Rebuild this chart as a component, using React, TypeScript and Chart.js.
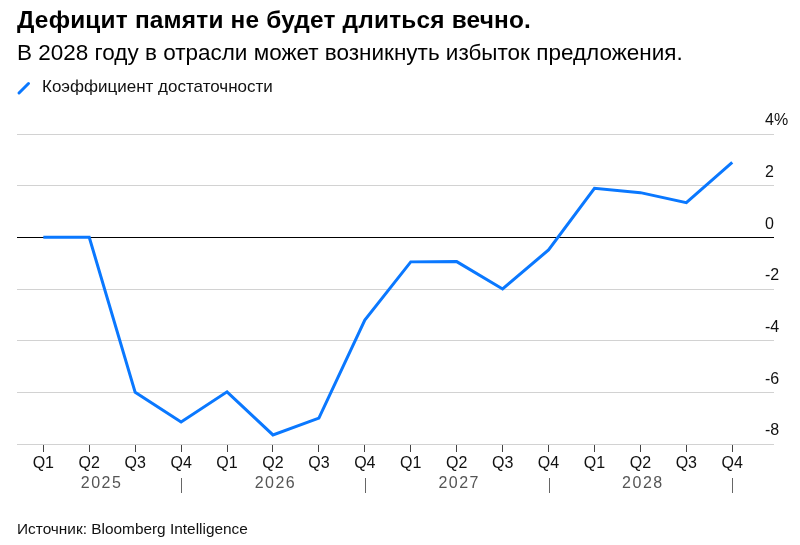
import React, { useEffect, useRef } from "react";
import { Chart, registerables } from "chart.js";

Chart.register(...registerables);

const quarters = ["Q1", "Q2", "Q3", "Q4", "Q1", "Q2", "Q3", "Q4", "Q1", "Q2", "Q3", "Q4", "Q1", "Q2", "Q3", "Q4"];
const years = ["2025", "2026", "2027", "2028"];
const sufficiency = [0, 0, -6.0, -7.15, -5.98, -7.65, -7.0, -3.2, -0.95, -0.94, -2.0, -0.49, 1.9, 1.73, 1.34, 2.9];
const yTickValues = [-8, -6, -4, -2, 0, 2, 4];

const TITLE = "Дефицит памяти не будет длиться вечно.";
const SUBTITLE = "В 2028 году в отрасли может возникнуть избыток предложения.";
const SERIES_NAME = "Коэффициент достаточности";
const SOURCE = "Источник: Bloomberg Intelligence";

const FONT = "'Liberation Sans', Arial, sans-serif";
const BLUE = "#0a78ff";

const yearRowPlugin = {
  id: "yearRow",
  afterDraw(chart: any) {
    const { ctx, scales, chartArea } = chart;
    const x = scales.x;
    ctx.save();
    ctx.font = `16px ${FONT}`;
    (ctx as any).letterSpacing = "1.5px";
    ctx.fillStyle = "#555";
    ctx.textAlign = "center";
    ctx.textBaseline = "middle";
    let start = chartArea.left;
    years.forEach((yr, i) => {
      const q4 = x.getPixelForValue(i * 4 + 3);
      const cx = (start + q4) / 2;
      ctx.fillText(yr, cx + 2.5, 484);
      start = q4;
      ctx.strokeStyle = "#666";
      ctx.lineWidth = 1;
      ctx.beginPath();
      ctx.moveTo(Math.round(q4) + 0.5, 478);
      ctx.lineTo(Math.round(q4) + 0.5, 493);
      ctx.stroke();
    });
    ctx.restore();
  },
};

export default function App() {
  const ref = useRef<HTMLCanvasElement | null>(null);

  useEffect(() => {
    if (!ref.current) return;
    const chart = new Chart(ref.current, {
      type: "line",
      data: {
        datasets: [
          {
            label: SERIES_NAME,
            data: sufficiency.map((v, i) => ({ x: i, y: v })),
            borderColor: BLUE,
            backgroundColor: BLUE,
            borderWidth: 3,
            pointRadius: 0,
            tension: 0,
            borderJoinStyle: "miter",
          },
        ],
      },
      options: {
        responsive: false,
        animation: false,
        devicePixelRatio: 1,
        layout: { padding: { top: 134, left: 17, right: 0, bottom: 0 } },
        plugins: {
          legend: { display: false },
          title: { display: false },
          tooltip: { enabled: false },
        },
        scales: {
          x: {
            type: "linear",
            min: -0.573,
            max: 15.713,
            afterBuildTicks: (s: any) => {
              s.ticks = quarters.map((_, i) => ({ value: i }));
            },
            afterFit: (s: any) => {
              s.height = 101;
            },
            border: { display: false },
            grid: {
              drawOnChartArea: false,
              drawTicks: true,
              tickLength: 8,
              color: "#444",
              lineWidth: 1,
            },
            ticks: {
              autoSkip: false,
              maxRotation: 0,
              padding: 2,
              color: "#111",
              font: { family: FONT, size: 16 },
              callback: (v: any) => quarters[v as number] ?? "",
            },
          },
          y: {
            position: "right",
            min: -8,
            max: 4,
            afterBuildTicks: (s: any) => {
              s.ticks = yTickValues.map((v) => ({ value: v }));
            },
            afterFit: (s: any) => {
              s.width = 35;
            },
            border: { display: false },
            grid: {
              drawOnChartArea: true,
              drawTicks: true,
              tickLength: 9,
              lineWidth: 1,
              color: (c: any) => (c.tick && c.tick.value === 0 ? "#000" : "#d2d2d2"),
            },
            ticks: {
              padding: -9,
              labelOffset: -13,
              color: "#111",
              font: { family: FONT, size: 16 },
              callback: (v: any) => (v === 4 ? "4%" : String(v)),
            },
          },
        },
      },
      plugins: [yearRowPlugin],
    });
    return () => chart.destroy();
  }, []);

  const base: React.CSSProperties = {
    position: "absolute",
    left: 17,
    fontFamily: FONT,
    whiteSpace: "nowrap",
    margin: 0,
  };

  return (
    <div style={{ position: "fixed", left: 0, top: 0, width: 800, height: 545, background: "#fff", overflow: "hidden" }}>
      <canvas ref={ref} width={800} height={545} style={{ position: "absolute", left: 0, top: 0, width: 800, height: 545 }} />
      <div style={{ ...base, top: 8, fontSize: 24.4, lineHeight: "24px", fontWeight: 700, color: "#000", letterSpacing: "0.2px" }}>{TITLE}</div>
      <div style={{ ...base, top: 41, fontSize: 22.5, lineHeight: "24px", color: "#000" }}>{SUBTITLE}</div>
      <svg width={16} height={16} style={{ position: "absolute", left: 16, top: 81 }}>
        <line x1={3} y1={12} x2={12.5} y2={2.5} stroke={BLUE} strokeWidth={3} strokeLinecap="round" />
      </svg>
      <div style={{ ...base, left: 42, top: 78, fontSize: 17, lineHeight: "18px", color: "#111" }}>{SERIES_NAME}</div>
      <div style={{ ...base, top: 520, fontSize: 15.4, lineHeight: "18px", color: "#111" }}>{SOURCE}</div>
    </div>
  );
}
